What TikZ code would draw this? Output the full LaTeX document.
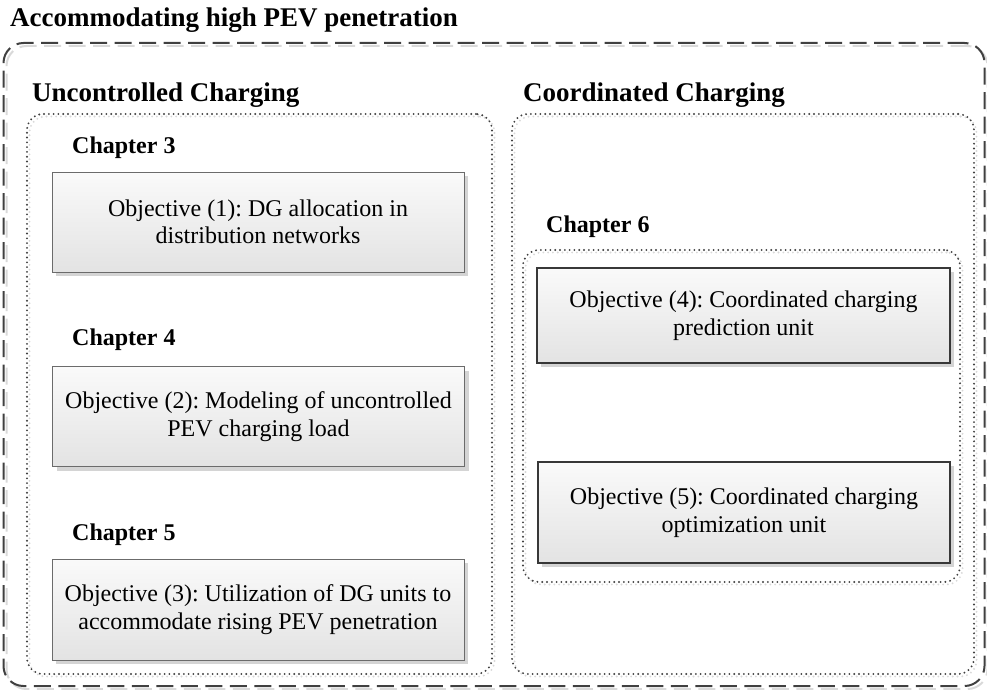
\documentclass[tikz,border=0pt]{standalone}
\usepackage{fontspec}
\setmainfont{Liberation Serif}
\usetikzlibrary{shadows}
\frenchspacing
\begin{document}
\begin{tikzpicture}[x=1pt,y=-1pt,
  objbox/.style={draw=black!58, line width=0.9pt, top color=black!2, bottom color=black!11,
    minimum width=412pt, minimum height=100pt, align=center, inner sep=0pt,
    font=\fontsize{24}{27.5}\selectfont,
    drop shadow={shadow xshift=4pt, shadow yshift=-4pt, fill=black!17, opacity=1}},
  darkbox/.style={objbox, draw=black!78, line width=2.2pt},
  dotbox/.style={draw=black!75, line width=2.1pt, dash pattern=on 0pt off 4.8pt, line cap=round,
    rounded corners=16pt, inner sep=0pt,
    copy shadow={draw=black!15, fill=none, shadow xshift=2.5pt, shadow yshift=-2.5pt, opacity=1}},
  dashbox/.style={draw=black!75, line width=2pt, dash pattern=on 17pt off 7.5pt,
    rounded corners=20pt, inner sep=0pt,
    copy shadow={draw=black!15, fill=none, shadow xshift=3pt, shadow yshift=-3pt, opacity=1}},
  head/.style={anchor=base west, inner sep=0pt, font=\fontsize{27}{30}\selectfont\bfseries},
  chap/.style={anchor=base west, inner sep=0pt, font=\fontsize{24}{27}\selectfont\bfseries}
]
\useasboundingbox (0,0) rectangle (987,690);
% containers
\node[dashbox, minimum width=981pt, minimum height=643pt] (outer) at (494,364.5) {};
\node[dotbox, minimum width=465pt, minimum height=560pt] (left) at (259.5,394) {};
\node[dotbox, minimum width=462pt, minimum height=560pt] (right) at (743,394) {};
\node[dotbox, minimum width=437pt, minimum height=332pt] (ch6) at (741.5,416) {};
% labels
\node[head] (title) at (10,27) {Accommodating high PEV penetration};
\node[head] (hunc) at (32,102) {Uncontrolled Charging};
\node[head] (hcoo) at (523,102) {Coordinated Charging};
\node[chap] (c3) at (72,153) {Chapter 3};
\node[chap] (c4) at (72,345) {Chapter 4};
\node[chap] (c5) at (72,540) {Chapter 5};
\node[chap] (c6) at (546,232) {Chapter 6};
% objective boxes
\node[objbox] (o1) at (258,222) {Objective (1): DG allocation in\\distribution networks};
\node[objbox] (o2) at (258.5,416.5) {Objective (2): Modeling of uncontrolled\\PEV charging load};
\node[objbox, minimum height=101pt] (o3) at (258,609.5) {Objective (3): Utilization of DG units to\\accommodate rising PEV penetration};
\node[darkbox, minimum width=413pt, minimum height=95pt] (o4) at (743.5,315.5) {Objective (4): Coordinated charging\\prediction unit};
\node[darkbox, minimum width=412pt, minimum height=101pt] (o5) at (744,512.5) {Objective (5): Coordinated charging\\optimization unit};
\end{tikzpicture}
\end{document}
